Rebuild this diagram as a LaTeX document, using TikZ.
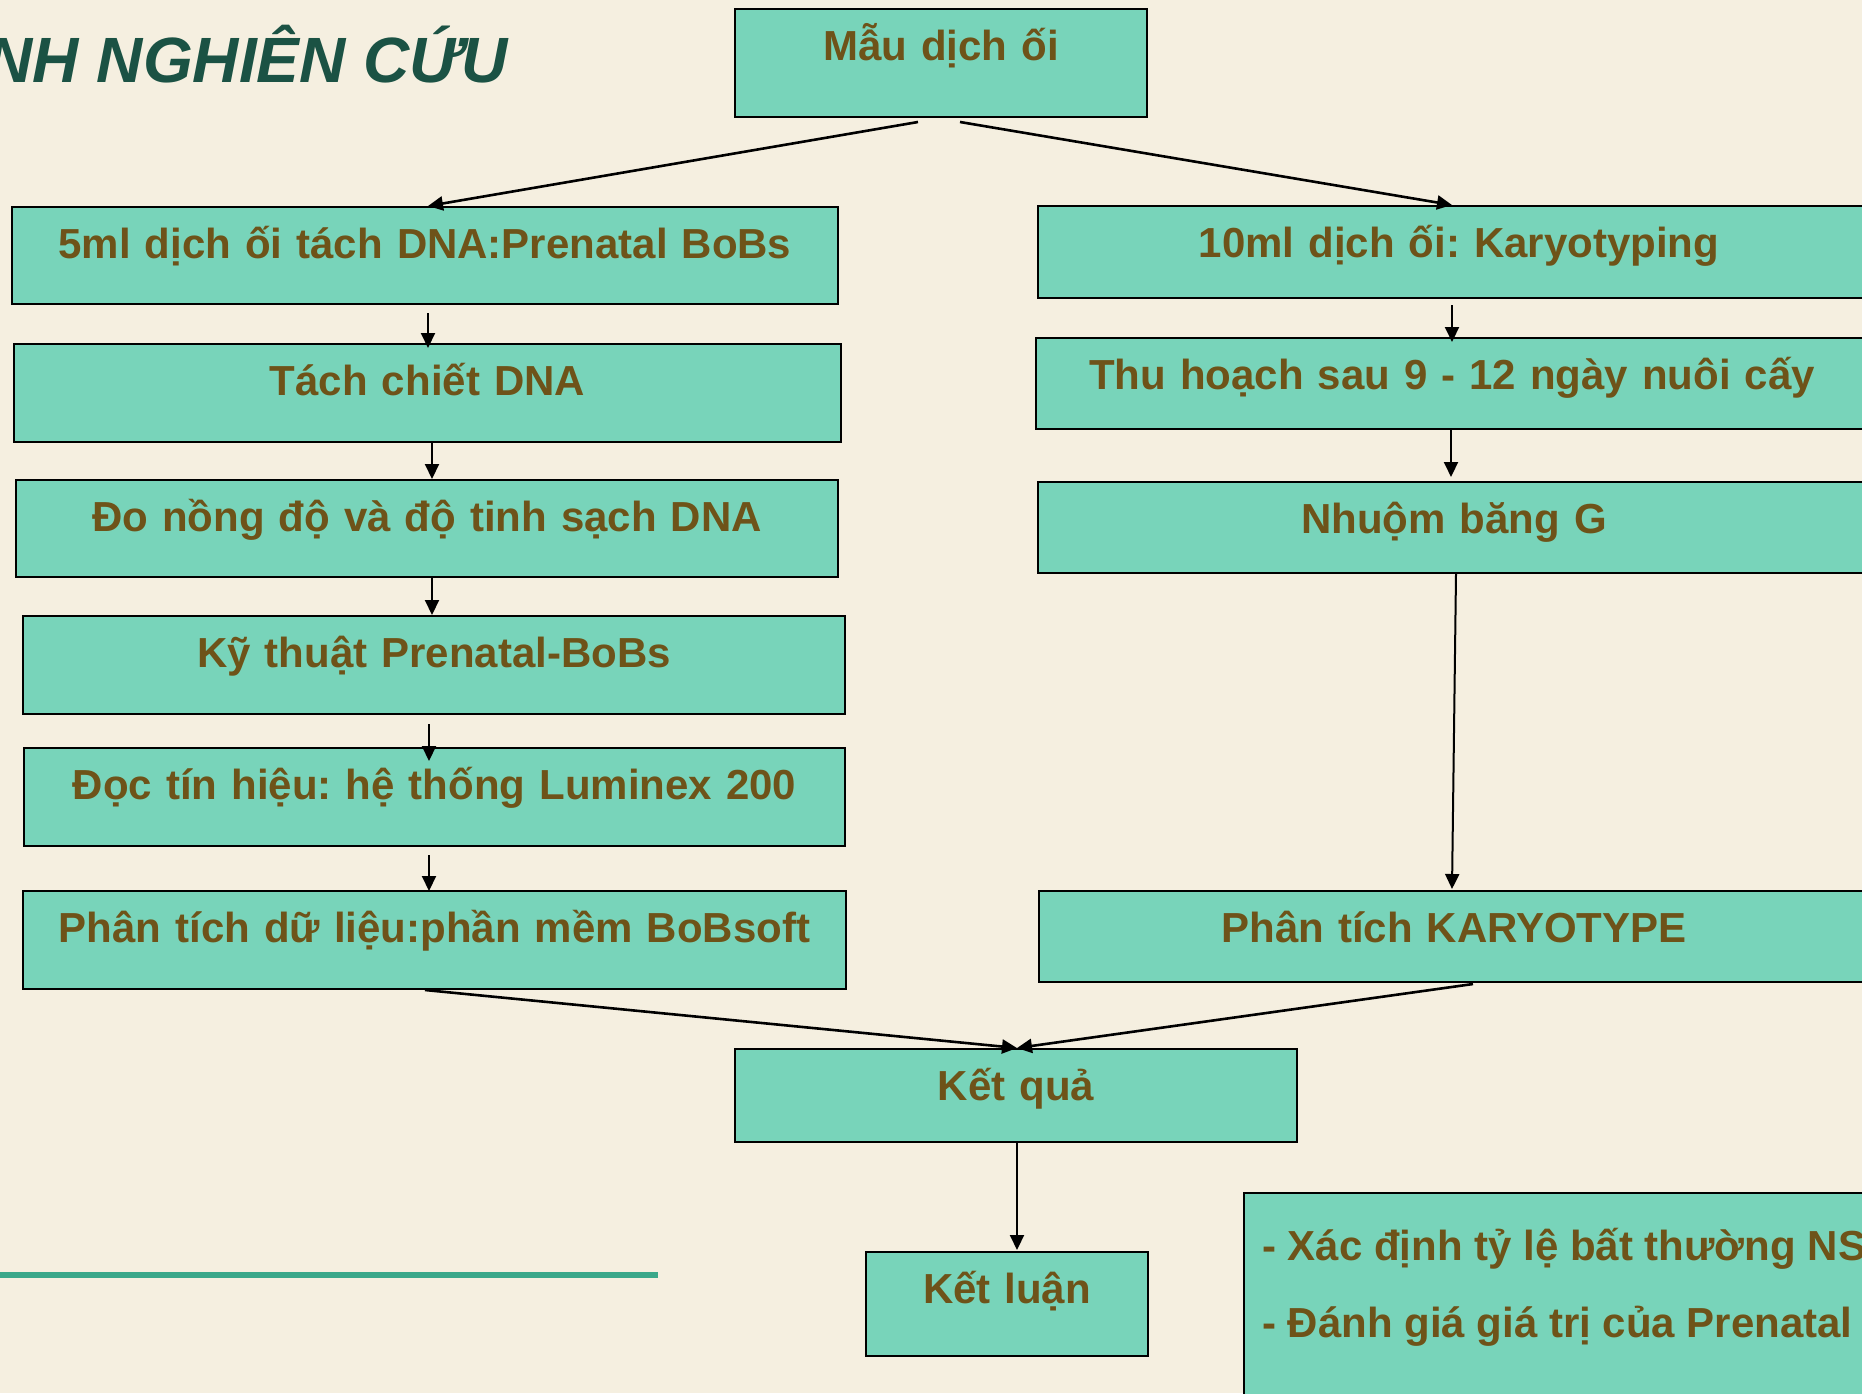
\documentclass[tikz,border=0pt]{standalone}
\usepackage{fontspec}
\setmainfont{Liberation Sans}
\usetikzlibrary{arrows.meta,calc}
\definecolor{bgc}{HTML}{F5EFE0}
\definecolor{boxfill}{HTML}{78D4BA}
\definecolor{txtbrown}{HTML}{6E5319}
\definecolor{titlegreen}{HTML}{1B5244}
\definecolor{rulegreen}{HTML}{3AA88A}
\newcommand{\bxfont}{\fontsize{42}{50}\selectfont\bfseries\frenchspacing}
\tikzset{
  bx/.style n args={2}{draw=black, line width=2pt, fill=boxfill, inner sep=0pt,
    text=txtbrown, font=\bxfont, align=center, text width=#1, text height=51pt, text depth=#2},
  arr/.style={draw=black, line width=2pt, -{Triangle[length=15pt,width=14pt]}},
  darr/.style={draw=black, line width=2.6pt, -{Triangle[length=15pt,width=14pt]}},
}
\begin{document}
\frenchspacing
\begin{tikzpicture}[x=1pt,y=-1pt]
\useasboundingbox (0,0) rectangle (1862,1393);
\clip (0,0) rectangle (1862,1393);
\fill[bgc] (0,0) rectangle (1862,1393);

\node[anchor=base east, text=titlegreen, font=\fontsize{64}{70}\selectfont\bfseries\itshape, inner sep=0pt] (title) at (508,82) {NH NGHIÊN CỨU};

\node[bx={412pt}{57pt}] (mau) at (941,63) {Mẫu dịch ối};

\node[bx={826pt}{46pt}] (b5ml) at (425,255.5) {5ml dịch ối tách DNA:Prenatal BoBs};
\node[bx={827pt}{47pt}] (tach) at (427.5,393) {Tách chiết DNA};
\node[bx={822pt}{46pt}] (dodo) at (427,528.5) {Đo nồng độ và độ tinh sạch DNA};
\node[bx={822pt}{47pt}] (kythuat) at (434,665) {Kỹ thuật Prenatal-BoBs};
\node[bx={821pt}{47pt}] (doc) at (434.5,797) {Đọc tín hiệu: hệ thống Luminex 200};
\node[bx={823pt}{47pt}] (phantich) at (434.5,940) {Phân tích dữ liệu:phần mềm BoBsoft};

\node[bx={842pt}{41pt}] (b10) at (1459,252) {10ml dịch ối: Karyotyping};
\node[bx={832pt}{40pt}] (thu) at (1452,383.5) {Thu hoạch sau 9 - 12 ngày nuôi cấy};
\node[bx={832pt}{40pt}] (nhuom) at (1454,527.5) {Nhuộm băng G};
\node[bx={830pt}{40pt}] (karyo) at (1454,936.5) {Phân tích KARYOTYPE};

\node[bx={562pt}{42pt}] (ketqua) at (1016,1095.5) {Kết quả};
\node[bx={282pt}{53pt}] (ketluan) at (1007,1304) {Kết luận};

\node[draw=black, line width=2pt, fill=boxfill, inner sep=0pt, minimum width=657pt, minimum height=240pt, anchor=north west] (obj) at (1243,1192) {};
\node[anchor=base west, inner sep=0pt, text=txtbrown, align=left, font=\fontsize{42}{77}\selectfont\bfseries\frenchspacing] (objtext) at (1262,1337) {- Xác định tỷ lệ bất thường NS\\- Đánh giá giá trị của Prenatal};

\draw[rulegreen, line width=6pt] (0,1275) -- (658,1275);

% connectors
\draw[darr] ($(mau.south)+(-23,4)$) -- ($(b5ml.north)+(3,0)$);
\draw[darr] ($(mau.south)+(19,4)$) -- ($(b10.north)+(-7,0)$);

\draw[arr] ($(b5ml.south)+(3,8)$) -- ($(tach.north)+(0.5,5)$);
\draw[arr] ($(tach.south)+(4.5,0)$) -- ($(dodo.north)+(5,0)$);
\draw[arr] ($(dodo.south)+(5,0)$) -- ($(kythuat.north)+(-2,0)$);
\draw[arr] ($(kythuat.south)+(-5,9)$) -- ($(doc.north)+(-5.5,14)$);
\draw[arr] ($(doc.south)+(-5.5,8)$) -- ($(phantich.north)+(-5.5,1)$);

\draw[arr] ($(b10.south)+(-7,6)$) -- ($(thu.north)+(0,5)$);
\draw[arr] ($(thu.south)+(-1,0)$) -- ($(nhuom.north)+(-3,-4)$);
\draw[arr] ($(nhuom.south)+(2,0)$) -- ($(karyo.north)+(-2,-1)$);

\draw[darr] ($(phantich.south)+(-9.5,0)$) -- ($(ketqua.north)+(1,0)$);
\draw[darr] ($(karyo.south)+(19,1)$) -- ($(ketqua.north)+(1,0)$);

\draw[arr] ($(ketqua.south)+(1,0)$) -- ($(ketluan.north)+(10,-1)$);
\end{tikzpicture}
\end{document}
